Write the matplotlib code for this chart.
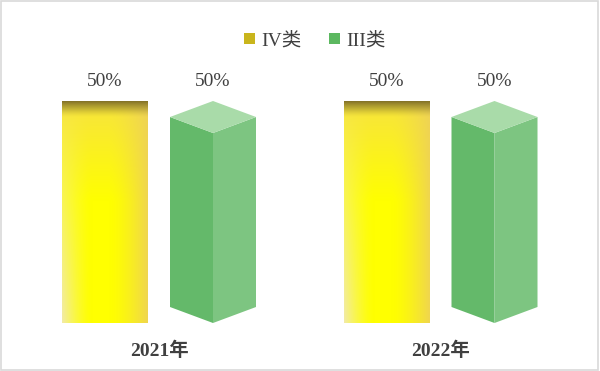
import numpy as np
import matplotlib.pyplot as plt
from matplotlib.patches import Polygon, Rectangle
from matplotlib.colors import to_rgb

# data
years = ['2021年', '2022年']
series = ['IV类', 'III类']
iv_vals = [50, 50]
iii_vals = [50, 50]

plt.rcParams['font.family'] = ['Liberation Serif', 'Noto Sans CJK SC']
txt = '#404040'

fig = plt.figure(figsize=(6, 3.71), dpi=100)
ax = fig.add_axes([0, 48 / 371, 1, 266.4 / 371])
ax.set_xlim(-159.5 / 281.5, (600 - 159.5) / 281.5)
ax.set_ylim(0, 60)
ax.axis('off')

# light border round the whole figure
fig.patches.append(Rectangle((0.002, 0.003), 0.995, 0.994, transform=fig.transFigure,
                             fill=False, edgecolor='#d9d9d9', lw=1.2))

x = np.arange(len(years))
w = 86 / 281.5
off_iv = -54.5 / 281.5
off_iii = 53.5 / 281.5
depth = 16 * 60 / 266.4  # vertical offset of the prism edges, in data units


def yellow_gradient(n=200):
    u = np.linspace(0, 1, n)[None, :]
    v = np.linspace(0, 1, n)[:, None]  # 0 = top, 1 = bottom
    bright = np.array(to_rgb('#ffff00'))
    top = np.array(to_rgb('#f7e33f'))
    right = np.array(to_rgb('#eed157'))
    left = np.array(to_rgb('#f2eba8'))
    img = np.zeros((n, n, 3)) + bright
    tv = np.clip(1 - v / 0.45, 0, 1)[..., None]
    img = img * (1 - tv) + top * tv
    rw = (np.clip((u - 0.55) / 0.45, 0, 1) ** 1.5)[..., None] * np.ones((n, 1, 1))
    img = img * (1 - rw * 0.9) + right * rw * 0.9
    lw_ = (np.clip((0.35 - u) / 0.35, 0, 1) ** 1.5)[..., None] * (v[..., None] ** 0.8)
    img = img * (1 - lw_) + left * lw_
    dark = np.array(to_rgb('#857428'))
    tb = (np.clip(1 - v / 0.07, 0, 1) ** 1.3)[..., None] * np.ones((1, n, 1))
    img = img * (1 - tb) + dark * tb
    return img


img = yellow_gradient()
bars = ax.bar(x + off_iv, iv_vals, width=w, color='none', edgecolor='none')
for b in bars:
    x0, y0 = b.get_x(), b.get_y()
    im = ax.imshow(img, extent=[x0, x0 + b.get_width(), y0, y0 + b.get_height()],
                   aspect='auto', zorder=2)
    im.set_clip_path(b)
    ax.text(b.get_x() + b.get_width() / 2, b.get_height() + 4.4, f'{b.get_height():.0f}%',
            ha='center', va='center', fontsize=14, color=txt)

for xi, val in zip(x + off_iii, iii_vals):
    xl, xc, xr = xi - w / 2, xi, xi + w / 2
    left_face = [(xl, depth), (xc, 0), (xc, val - 2 * depth), (xl, val - depth)]
    right_face = [(xc, 0), (xr, depth), (xr, val - depth), (xc, val - 2 * depth)]
    top_face = [(xl, val - depth), (xc, val), (xr, val - depth), (xc, val - 2 * depth)]
    ax.add_patch(Polygon(left_face, closed=True, facecolor='#64b96a', edgecolor='none', zorder=2))
    ax.add_patch(Polygon(right_face, closed=True, facecolor='#7dc581', edgecolor='none', zorder=2))
    ax.add_patch(Polygon(top_face, closed=True, facecolor='#a9dba9', edgecolor='none', zorder=2))
    ax.text(xc, val + 4.4, f'{val:.0f}%', ha='center', va='center', fontsize=14, color=txt)

for xi, yr in zip(x, years):
    ax.text(xi, -6.3, yr, ha='center', va='center', fontsize=14, fontweight='bold', color=txt)

# legend
h1 = Rectangle((0, 0), 1, 1, facecolor='#c9b51c', edgecolor='none')
h2 = Rectangle((0, 0), 1, 1, facecolor='#5cb860', edgecolor='none')
fig.legend([h1, h2], series, loc='center', bbox_to_anchor=(0.525, 0.89), ncol=2, frameon=False,
           fontsize=14, handlelength=0.55, handleheight=0.55, columnspacing=1.4,
           handletextpad=0.35, labelcolor=txt)

fig.savefig('out.png', dpi=100)
